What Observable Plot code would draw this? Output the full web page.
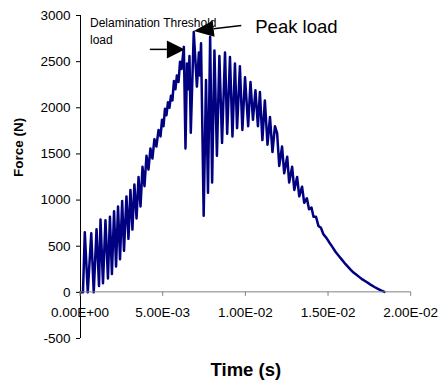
<!DOCTYPE html>
<html><head><meta charset="utf-8">
<script src="https://cdn.jsdelivr.net/npm/d3@7"></script>
<script src="https://cdn.jsdelivr.net/npm/@observablehq/plot@0.6"></script>
<style>body{margin:0;background:#fff}</style>
</head><body><div id="chart"></div>
<script>
// Time in milliseconds (converted to seconds for plotting)
const timeMs = [0,0.15,0.26,0.44,0.65,0.80,0.97,1.12,1.21,1.36,1.51,1.66,1.78,1.90,2.03,2.15,2.27,2.39,2.52,2.63,
  2.78,2.90,3.02,3.14,3.26,3.39,3.51,3.63,3.75,3.87,3.99,4.11,4.23,4.35,4.47,4.59,4.72,4.84,4.93,5.02,
  5.11,5.20,5.29,5.38,5.47,5.56,5.65,5.74,5.83,5.93,6.02,6.11,6.25,6.35,6.44,6.53,6.59,6.67,6.85,7.04,
  7.16,7.22,7.29,7.45,7.59,7.71,7.84,7.96,8.10,8.25,8.40,8.56,8.74,8.87,9.04,9.19,9.34,9.47,9.64,9.79,
  9.95,10.14,10.28,10.43,10.58,10.73,10.85,11.00,11.15,11.31,11.46,11.61,11.76,11.89,12.02,12.19,12.32,12.50,12.62,12.80,
  12.93,13.10,13.23,13.40,13.53,13.69,13.82,13.97,14.09,14.24,14.39,14.54,14.69,14.87,15.05,15.24,15.42,15.60,15.78,15.96,
  16.14,16.32,16.51,16.69,16.87,17.05,17.23,17.41,17.59,17.78,17.96,18.14,18.38];
const forceN = [0,0,650,0,640,0,685,70,790,100,780,150,820,200,880,280,930,360,990,450,
  1040,580,1110,680,1170,800,1250,930,1360,1150,1480,1330,1560,1450,1660,1580,1760,1690,1870,1800,
  1990,1920,2060,2000,2130,2080,2290,2200,2350,2280,2500,2420,2660,1560,2480,2200,2560,1730,2820,2230,
  2600,2350,2700,830,2300,1080,2770,1190,2620,1480,2560,1620,2600,1720,2550,1690,2480,1780,2450,1760,
  2330,1800,2280,1870,2190,1800,2170,1650,2080,1600,1900,1520,1800,1725,1370,1580,1290,1470,1190,1360,
  1110,1250,1040,1145,970,1020,900,920,820,820,720,700,630,590,540,490,440,400,360,320,
  285,250,215,190,165,140,120,100,78,58,40,24,5];

const yTicks = [-500,0,500,1000,1500,2000,2500,3000];
const xTicks = [0,0.005,0.01,0.015,0.02];
const xTickLabels = ["0.00E+00","5.00E-03","1.00E-02","1.50E-02","2.00E-02"];
const thresholdTimeMs = 6.25;
const xTitle = "Time (s)";
const yTitle = "Force (N)";
const thresholdText = ["Delamination Threshold", "load"];
const peakText = "Peak load";

const data = timeMs.map((t, i) => ({t: t / 1000, f: forceN[i]}));
const thr = data[timeMs.indexOf(thresholdTimeMs)];
const peak = data[d3.maxIndex(forceN)];
const FONT = "Arial, 'Liberation Sans', sans-serif";

function overlay(index, scales) {
  const {x, y} = scales;
  const g = d3.create("svg:g").attr("font-family", FONT);
  const y0 = y(0);
  g.append("line").attr("x1", x(0)).attr("x2", x(0.02)).attr("y1", y0).attr("y2", y0)
    .attr("stroke", "#808080").attr("stroke-width", 1);
  g.selectAll("line.xt").data(xTicks).join("line").attr("class", "xt")
    .attr("x1", d => x(d)).attr("x2", d => x(d)).attr("y1", y0).attr("y2", y0 + 4)
    .attr("stroke", "#808080");
  g.selectAll("text.xl").data(xTicks).join("text").attr("class", "xl")
    .attr("x", d => x(d)).attr("y", y0 + 25).attr("text-anchor", "middle")
    .attr("font-size", 13.5).attr("fill", "#000")
    .text((d, i) => xTickLabels[i]);
  function arrow(tx, ty, sx, sy, len, half) {
    const dx = tx - sx, dy = ty - sy, L = Math.hypot(dx, dy);
    const ux = dx / L, uy = dy / L, nx = -uy, ny = ux;
    const bx = tx - ux * len, by = ty - uy * len;
    g.append("line").attr("x1", sx).attr("y1", sy).attr("x2", bx).attr("y2", by)
      .attr("stroke", "#000").attr("stroke-width", 1.5);
    g.append("path").attr("d", `M${tx},${ty}L${bx + nx * half},${by + ny * half}L${bx - nx * half},${by - ny * half}Z`)
      .attr("fill", "#000");
  }
  const t1x = x(thr.t) + 1.5, t1y = y(thr.f) + 3;
  arrow(t1x, t1y, t1x - 35, t1y, 18, 9);
  const t2x = x(peak.t) + 0.5, t2y = y(peak.f) - 0.5;
  arrow(t2x, t2y, t2x + 47.5, t2y - 5.5, 20, 8);
  const tt = g.append("text").attr("font-size", 12).attr("fill", "#000").attr("text-anchor", "start");
  tt.append("tspan").attr("x", x(0) + 10).attr("y", t1y - 22.5).text(thresholdText[0]);
  tt.append("tspan").attr("x", x(0) + 10).attr("y", t1y - 5.5).text(thresholdText[1]);
  g.append("text").attr("x", t2x + 61.5).attr("y", t2y + 2).attr("font-size", 18.5)
    .attr("fill", "#000").attr("text-anchor", "start").text(peakText);
  return g.node();
}

const chart = Plot.plot({
  width: 440,
  height: 381,
  marginLeft: 80,
  marginRight: 29.3,
  marginTop: 15,
  marginBottom: 43,
  style: {fontFamily: FONT, fontSize: "13.5px", background: "#fff", color: "#000"},
  x: {domain: [0, 0.02], axis: null},
  y: {domain: [-500, 3000], axis: null},
  marks: [
    Plot.ruleX([0], {y1: -500, y2: 3000, stroke: "#000"}),
    Plot.axisY({ticks: yTicks, tickSize: 4, tickPadding: 6, tickFormat: d => String(d), label: null, fontSize: 13.5}),
    Plot.line(data, {x: "t", y: "f", stroke: "#000080", strokeWidth: 2.5, strokeLinejoin: "round"}),
    overlay,
    Plot.text([yTitle], {frameAnchor: "left", dx: -62, rotate: -90, fontWeight: "bold", fontSize: 13.5}),
    Plot.text([xTitle], {frameAnchor: "bottom", dx: 0, dy: 37, fontWeight: "bold", fontSize: 18.5})
  ]
});
document.getElementById("chart").appendChild(chart);
</script>
</body></html>
